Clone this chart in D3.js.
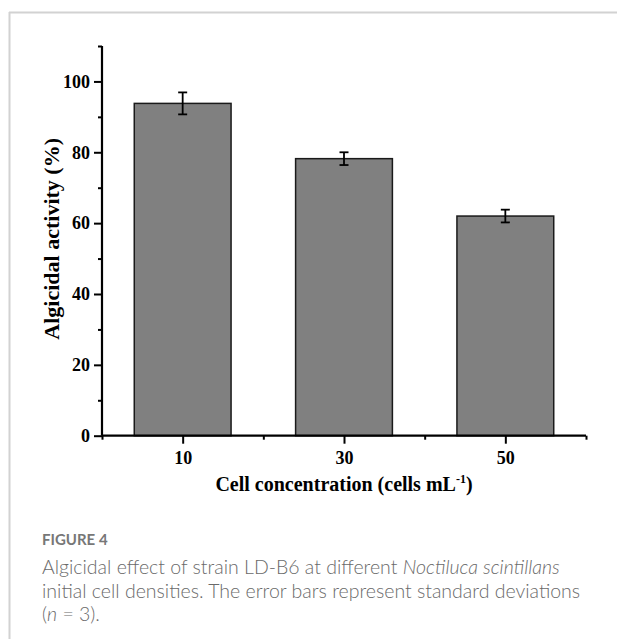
<!DOCTYPE html>
<html>
<head>
<meta charset="utf-8">
<script src="https://cdn.jsdelivr.net/npm/d3@7"></script>
<style>
  html, body { margin: 0; padding: 0; background: #fff; }
  svg { display: block; }
</style>
</head>
<body>
<svg id="chart" width="617" height="639"></svg>
<script>
// ---- data ----
const categories = [10, 30, 50];
const activity = [93.8, 78.2, 62.0];
const stdDev = [3.1, 1.8, 1.8];
const yMajorTicks = [0, 20, 40, 60, 80, 100];
const yMinorTicks = [10, 30, 50, 70, 90, 110];
const xMajorTicks = [10, 30, 50];
const xMinorTicks = [0, 20, 40, 60];
const barWidthUnits = 12;

const svg = d3.select("#chart");

// panel border (top + left)
svg.append("line").attr("x1", 9).attr("x2", 617).attr("y1", 12.5).attr("y2", 12.5)
  .attr("stroke", "#d2d2d2").attr("stroke-width", 2);
svg.append("line").attr("x1", 9.5).attr("x2", 9.5).attr("y1", 12).attr("y2", 639)
  .attr("stroke", "#d2d2d2").attr("stroke-width", 2);

const x = d3.scaleLinear().domain([0, 60]).range([102, 586]);
const y = d3.scaleLinear().domain([0, 110]).range([435.7, 46]);

const serif = "'Liberation Serif','Times New Roman',serif";

// bars
const g = svg.append("g");
g.selectAll("rect.bar").data(categories).join("rect")
  .attr("class", "bar")
  .attr("x", (d) => x(d - barWidthUnits / 2))
  .attr("width", x(barWidthUnits) - x(0))
  .attr("y", (d, i) => y(activity[i]))
  .attr("height", (d, i) => y(0) - y(activity[i]))
  .attr("fill", "#808080")
  .attr("stroke", "#1a1a1a")
  .attr("stroke-width", 1.5);

// error bars
const cap = 4.5;
categories.forEach((c, i) => {
  const cx = x(c);
  const top = y(activity[i] + stdDev[i]);
  const bot = y(activity[i] - stdDev[i]);
  g.append("line").attr("x1", cx).attr("x2", cx).attr("y1", top).attr("y2", bot)
    .attr("stroke", "#000").attr("stroke-width", 1.8);
  [top, bot].forEach(yy => {
    g.append("line").attr("x1", cx - cap).attr("x2", cx + cap).attr("y1", yy).attr("y2", yy)
      .attr("stroke", "#000").attr("stroke-width", 1.8);
  });
});

// axes
const yAxisMajor = d3.axisLeft(y).tickValues(yMajorTicks).tickSize(8).tickPadding(4).tickFormat(d3.format("d"));
const yAxisMinor = d3.axisLeft(y).tickValues(yMinorTicks).tickSize(4).tickFormat("");
const xAxisMajor = d3.axisBottom(x).tickValues(xMajorTicks).tickSize(8).tickPadding(8).tickFormat(d3.format("d"));
const xAxisMinor = d3.axisBottom(x).tickValues(xMinorTicks).tickSize(4).tickFormat("");

function styleAxis(sel) {
  sel.selectAll("path").attr("stroke", "#000").attr("stroke-width", 2.2);
  sel.selectAll("line").attr("stroke", "#000").attr("stroke-width", 2);
  sel.selectAll("text").attr("font-family", serif).attr("font-weight", "bold")
    .attr("font-size", 18).attr("fill", "#000");
}

const gyMin = svg.append("g").attr("transform", "translate(102,0)").call(yAxisMinor);
gyMin.select("path").remove();
styleAxis(gyMin);
const gy = svg.append("g").attr("transform", "translate(102,0)").call(yAxisMajor);
styleAxis(gy);
gy.select("path").attr("d", `M0,${y(110)}V${y(0)}`);

const gxMin = svg.append("g").attr("transform", `translate(0,${y(0)})`).call(xAxisMinor);
gxMin.select("path").remove();
styleAxis(gxMin);
const gx = svg.append("g").attr("transform", `translate(0,${y(0)})`).call(xAxisMajor);
styleAxis(gx);
gx.select("path").attr("d", `M${x(0)},0H${x(60)}`);

// axis titles
svg.append("text")
  .attr("transform", `translate(59,${(y(0) + y(110)) / 2 - 2}) rotate(-90)`)
  .attr("text-anchor", "middle")
  .attr("font-family", serif).attr("font-weight", "bold").attr("font-size", 22)
  .text("Algicidal activity (%)");

const xt = svg.append("text")
  .attr("x", (x(0) + x(60)) / 2).attr("y", 491)
  .attr("text-anchor", "middle")
  .attr("font-family", serif).attr("font-weight", "bold").attr("font-size", 20);
xt.append("tspan").text("Cell concentration (cells mL");
xt.append("tspan").attr("font-size", 12).attr("dy", -8).text("-1");
xt.append("tspan").attr("dy", 8).text(")");

// caption
const sans = "Lato,'Open Sans','Noto Sans',sans-serif";
svg.append("text").attr("x", 42).attr("y", 545)
  .attr("font-family", sans).attr("font-size", 15).attr("font-weight", "bold")
  .attr("fill", "#777").text("FIGURE 4");

const capLines = [
  [["Algicidal effect of strain LD-B6 at different ", false], ["Noctiluca scintillans", true]],
  [["initial cell densities. The error bars represent standard deviations", false]],
  [["(", false], ["n", true], [" = 3).", false]]
];
capLines.forEach((parts, li) => {
  const t = svg.append("text").attr("x", 42).attr("y", 574 + li * 23.5)
    .attr("font-family", sans).attr("font-size", 19.5).attr("font-weight", 300)
    .attr("fill", "#6a6a6a");
  parts.forEach(([s, it]) => t.append("tspan").attr("font-style", it ? "italic" : "normal").text(s));
});
</script>
</body>
</html>
